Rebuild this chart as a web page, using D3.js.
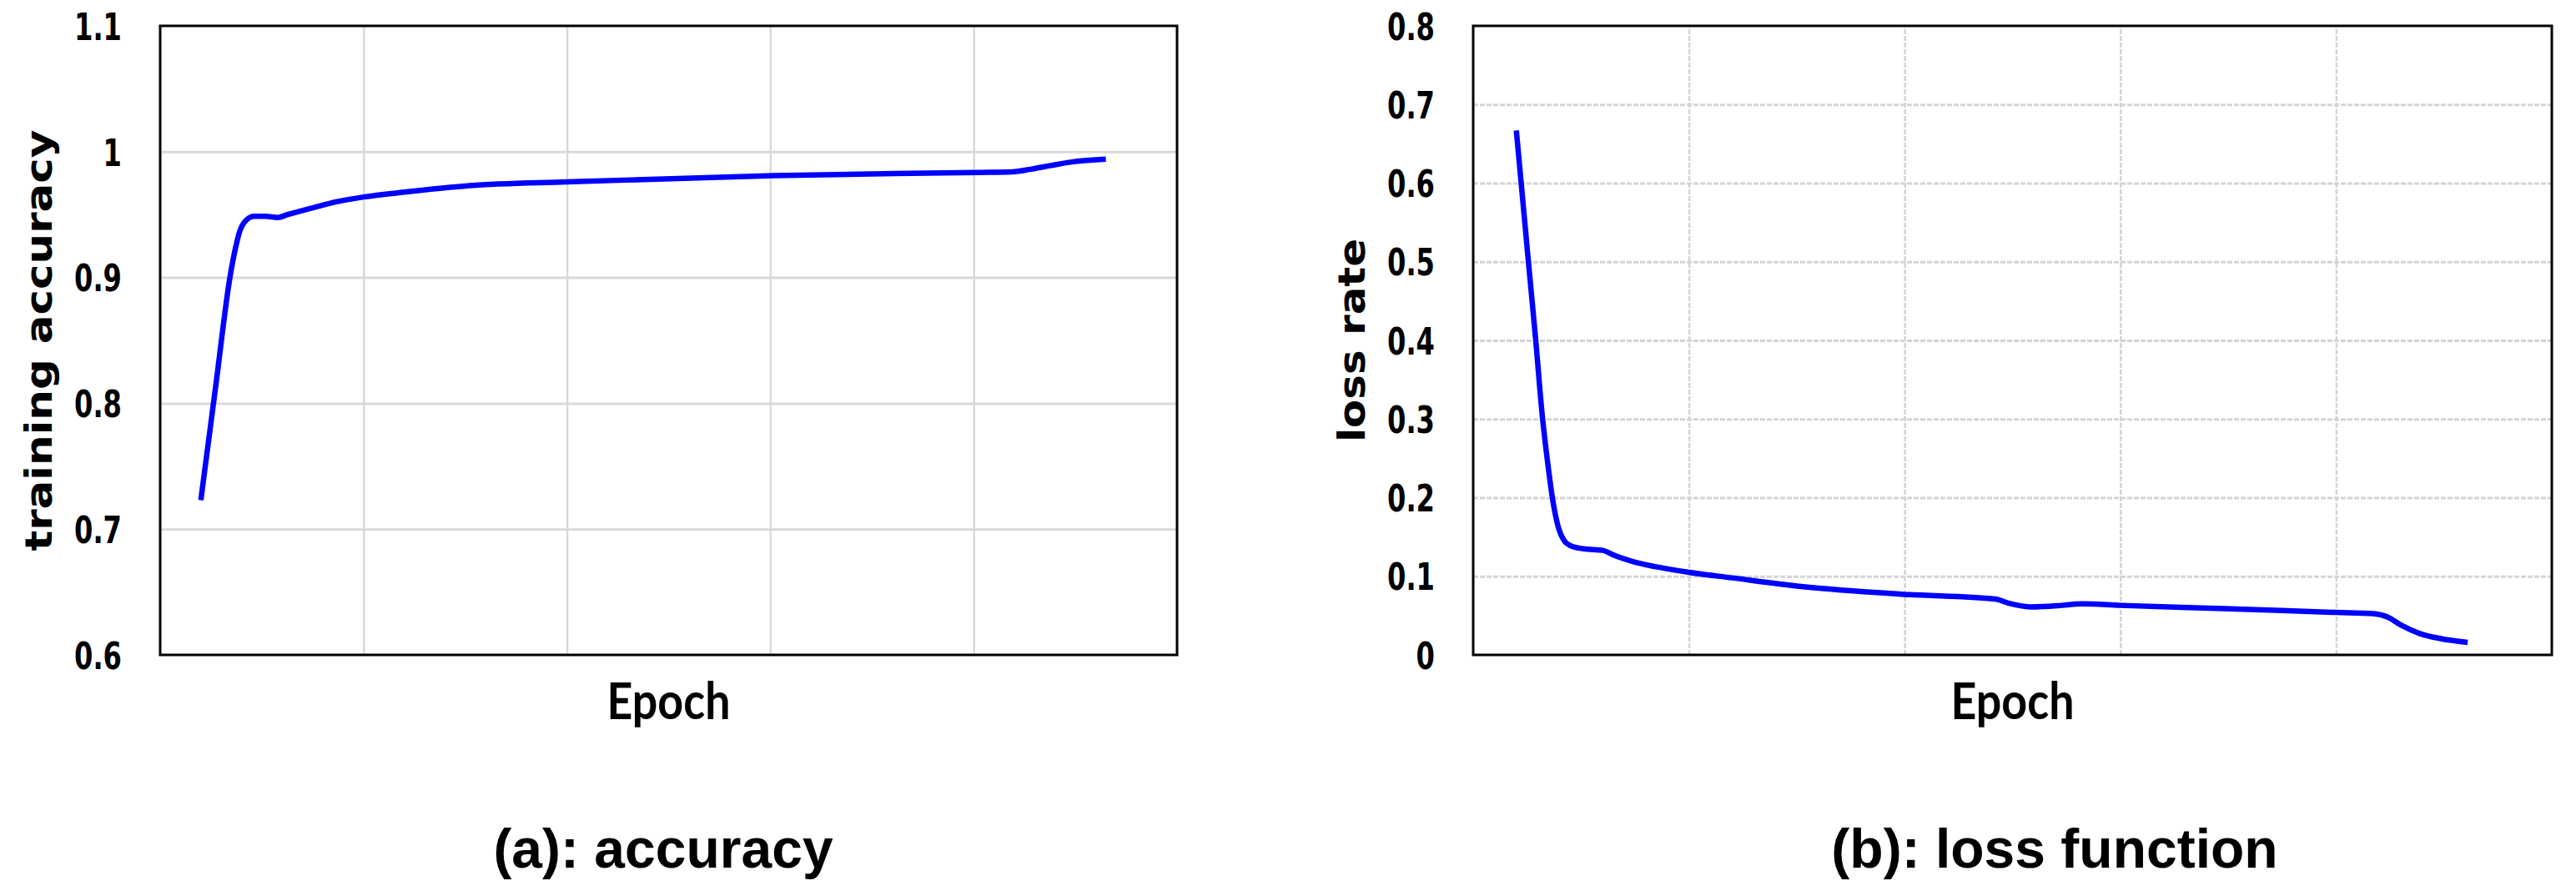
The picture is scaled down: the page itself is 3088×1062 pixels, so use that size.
<!DOCTYPE html>
<html>
<head>
<meta charset="utf-8">
<script src="https://cdn.jsdelivr.net/npm/d3@7"></script>
<style>
  html, body { margin: 0; padding: 0; background: #fff; }
  svg { display: block; }
</style>
</head>
<body>
<div id="chart"></div>
<script>
// Training curves (a) accuracy, (b) loss.

const epochDomain = [0, 50];
const epochGrid = [10, 20, 30, 40];

const accEpochs = [2.0, 2.75, 3.44, 3.68, 3.92, 4.23, 4.62, 5.17, 5.79, 6.27, 7.37, 8.6, 10.0, 12.1, 15.2, 20.0, 24.1, 30.2, 40.2, 41.9, 42.8, 43.8, 44.9, 46.5];
const accValues = [0.723, 0.816, 0.901, 0.9216, 0.937, 0.9455, 0.9486, 0.9486, 0.9477, 0.950, 0.9548, 0.960, 0.964, 0.968, 0.973, 0.976, 0.978, 0.981, 0.9835, 0.984, 0.986, 0.989, 0.992, 0.994];
const accTicks = [0.6, 0.7, 0.8, 0.9, 1, 1.1];
const accTickLabels = ["0.6", "0.7", "0.8", "0.9", "1", "1.1"];

const lossEpochs = [2.0, 2.55, 2.9, 3.2, 3.45, 3.7, 3.95, 4.2, 4.5, 5.1, 6.0, 6.5, 7.5, 8.8, 10.0, 12.0, 15.2, 20.0, 24.2, 24.8, 25.9, 27.3, 28.2, 30.0, 34.8, 40.0, 41.7, 42.4, 43.0, 43.9, 44.8, 46.1];
const lossValues = [0.667, 0.503, 0.400, 0.305, 0.245, 0.195, 0.162, 0.146, 0.139, 0.135, 0.133, 0.127, 0.118, 0.1105, 0.105, 0.098, 0.087, 0.077, 0.071, 0.066, 0.061, 0.063, 0.065, 0.063, 0.059, 0.054, 0.0525, 0.048, 0.038, 0.027, 0.021, 0.016];
const lossTicks = [0, 0.1, 0.2, 0.3, 0.4, 0.5, 0.6, 0.7, 0.8];
const lossTickLabels = ["0", "0.1", "0.2", "0.3", "0.4", "0.5", "0.6", "0.7", "0.8"];

const width = 3088;
const height = 1062;

const svg = d3.select("#chart").append("svg")
  .attr("width", width)
  .attr("height", height)
  .attr("viewBox", [0, 0, width, height]);

svg.append("rect").attr("width", width).attr("height", height).attr("fill", "#fff");

// natural width of a string in a given font (used to squeeze/stretch text like the figure)
function measure(str, family, size, weight = "bold") {
  const t = svg.append("text")
    .attr("font-family", family).attr("font-size", size).attr("font-weight", weight)
    .text(str);
  const w = t.node().getComputedTextLength();
  t.remove();
  return w;
}

const tickFont = "DejaVu Sans";
const tickSize = 45;
const tickSx = 57 / measure("0.7", tickFont, tickSize);

function drawPanel({ left, right, top, bottom, epochs, values, ticks, tickLabels,
                     yLabel, yLabelLength, title, titleX, dashed }) {
  const x = d3.scaleLinear(epochDomain, [left, right]);
  const y = d3.scaleLinear([ticks[0], ticks[ticks.length - 1]], [bottom, top]);
  const g = svg.append("g");
  const gridColor = dashed ? "#d4d4d4" : "#d9d9d9";

  // ---- grid ----
  const hGrid = g.append("g")
    .attr("transform", `translate(${left},0)`)
    .call(d3.axisLeft(y).tickValues(ticks.slice(1, -1)).tickSize(-(right - left)).tickFormat(""));
  hGrid.select(".domain").remove();
  hGrid.selectAll("line")
    .attr("stroke", gridColor).attr("stroke-width", 3)
    .attr("stroke-dasharray", dashed ? "6 2" : null);

  const vGrid = g.append("g")
    .attr("transform", `translate(0,${bottom})`)
    .call(d3.axisBottom(x).tickValues(epochGrid).tickSize(-(bottom - top)).tickFormat(""));
  vGrid.select(".domain").remove();
  vGrid.selectAll("line")
    .attr("stroke", gridColor).attr("stroke-width", 2.5)
    .attr("stroke-dasharray", dashed ? "6 2" : null);

  // ---- series ----
  const line = d3.line()
    .x(d => x(d[0]))
    .y(d => y(d[1]))
    .curve(d3.curveMonotoneX);

  g.append("path")
    .datum(epochs.map((e, i) => [e, values[i]]))
    .attr("fill", "none")
    .attr("stroke", "#0000ff")
    .attr("stroke-width", 6.5)
    .attr("stroke-linejoin", "round")
    .attr("d", line);

  // ---- frame ----
  g.append("rect")
    .attr("x", left).attr("y", top)
    .attr("width", right - left).attr("height", bottom - top)
    .attr("fill", "none").attr("stroke", "#000").attr("stroke-width", 3);

  // ---- y tick labels ----
  const yAxis = g.append("g")
    .attr("transform", `translate(${left},0)`)
    .call(d3.axisLeft(y).tickValues(ticks).tickFormat((d, i) => tickLabels[i]).tickSize(0).tickPadding(0));
  yAxis.select(".domain").remove();
  yAxis.selectAll("text")
    .attr("x", 0)
    .attr("dy", "0.36em")
    .attr("font-family", tickFont)
    .attr("font-weight", "bold")
    .attr("font-size", tickSize)
    .attr("fill", "#000")
    .attr("transform", `translate(-46,0) scale(${tickSx},1)`);

  // ---- axis titles ----
  const yl = 44;
  const ylSx = yLabelLength / measure(yLabel, "DejaVu Sans", yl);
  g.append("text")
    .attr("transform", `translate(${left - 130},${(top + bottom) / 2}) rotate(-90) scale(${ylSx},1)`)
    .attr("text-anchor", "middle")
    .attr("font-family", "DejaVu Sans")
    .attr("font-weight", "bold")
    .attr("font-size", yl)
    .attr("fill", "#000")
    .text(yLabel);

  const epochSx = 148 / measure("Epoch", "Lato", 62);
  g.append("text")
    .attr("transform", `translate(${(left + right) / 2},862) scale(${epochSx},1)`)
    .attr("text-anchor", "middle")
    .attr("font-family", "Lato")
    .attr("font-weight", "bold")
    .attr("font-size", 62)
    .attr("fill", "#000")
    .text("Epoch");

  // ---- panel caption ----
  g.append("text")
    .attr("x", titleX)
    .attr("y", 1040)
    .attr("text-anchor", "middle")
    .attr("font-family", "Liberation Sans, Arial, sans-serif")
    .attr("font-weight", "bold")
    .attr("font-size", 66)
    .attr("fill", "#000")
    .text(title);
}

drawPanel({
  left: 192, right: 1411, top: 31, bottom: 785,
  epochs: accEpochs, values: accValues,
  ticks: accTicks, tickLabels: accTickLabels,
  yLabel: "training accuracy", yLabelLength: 505,
  title: "(a): accuracy", titleX: 795,
  dashed: false
});

drawPanel({
  left: 1766, right: 3059, top: 31, bottom: 785,
  epochs: lossEpochs, values: lossValues,
  ticks: lossTicks, tickLabels: lossTickLabels,
  yLabel: "loss rate", yLabelLength: 244,
  title: "(b): loss function", titleX: 2463,
  dashed: true
});
</script>
</body>
</html>
